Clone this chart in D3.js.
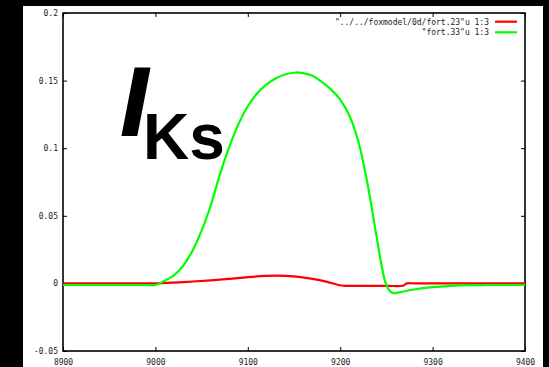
<!DOCTYPE html>
<html>
<head>
<meta charset="utf-8">
<script src="https://cdn.jsdelivr.net/npm/d3@7"></script>
<style>
  html, body { margin: 0; padding: 0; background: #000; }
  svg { display: block; }
  .tick text { font-family: "DejaVu Sans Mono", monospace; font-size: 8px; fill: #222; }
</style>
</head>
<body>
<svg id="chart" width="549" height="367"></svg>
<script>
// tick values
const xTicks = [8900, 9000, 9100, 9200, 9300, 9400];
const yTicks = [-0.05, 0, 0.05, 0.1, 0.15, 0.2];

// series: "../../foxmodel/0d/fort.23" u 1:3 (red)
const redT = [8900, 8990, 9000, 9020, 9040, 9060, 9080, 9100, 9120, 9130, 9150, 9170, 9185, 9198, 9205,
              9220, 9250, 9268, 9272, 9280, 9400];
const redV = [0, 0, 0, 0.0006, 0.0014, 0.0023, 0.0034, 0.0046, 0.0055, 0.0057, 0.0052, 0.0034, 0.0013,
              -0.0012, -0.0018, -0.0018, -0.0018, -0.0017, 0, 0, 0];

// series: "fort.33" u 1:3 (green)
const greenT = [8900, 8990, 9000, 9010, 9020, 9030, 9040, 9050, 9060, 9070, 9080, 9090, 9100, 9110, 9120,
                9130, 9140, 9152, 9160, 9170, 9180, 9190, 9200, 9210, 9220, 9230, 9240, 9248,
                9252, 9257, 9265, 9280, 9300, 9320, 9340, 9360, 9400];
const greenV = [-0.0012, -0.0012, -0.0012, 0.002, 0.006, 0.013, 0.024, 0.039, 0.058, 0.081, 0.101, 0.118,
                0.131, 0.1405, 0.147, 0.1515, 0.1545, 0.156, 0.1555, 0.1535, 0.149, 0.1435, 0.136,
                0.124, 0.104, 0.072, 0.032, 0.003, -0.004, -0.0072, -0.0064, -0.0045, -0.0028,
                -0.0018, -0.0013, -0.0012, -0.0012];

const margin = {left: 63, top: 13, right: 525, bottom: 351};

const svg = d3.select('#chart');

svg.append('rect')
  .attr('x', 23).attr('y', 6)
  .attr('width', 520).attr('height', 361)
  .attr('fill', '#fff');

const x = d3.scaleLinear().domain([8900, 9400]).range([margin.left, margin.right]);
const y = d3.scaleLinear().domain([-0.05, 0.2]).range([margin.bottom, margin.top]);

const fmt = v => String(v);

// axes with inward ticks, mirrored on all sides
svg.append('g')
  .attr('transform', `translate(${margin.left},0)`)
  .call(d3.axisLeft(y).tickValues(yTicks).tickFormat(fmt).tickSize(-4).tickSizeOuter(0).tickPadding(5));
svg.append('g')
  .attr('transform', `translate(${margin.right},0)`)
  .call(d3.axisRight(y).tickValues(yTicks).tickFormat('').tickSize(-4).tickSizeOuter(0));
svg.append('g')
  .attr('transform', `translate(0,${margin.bottom})`)
  .call(d3.axisBottom(x).tickValues(xTicks).tickFormat(fmt).tickSize(-4).tickSizeOuter(0).tickPadding(8));
svg.append('g')
  .attr('transform', `translate(0,${margin.top})`)
  .call(d3.axisTop(x).tickValues(xTicks).tickFormat('').tickSize(-4).tickSizeOuter(0));

svg.selectAll('.domain').remove();
svg.selectAll('.tick line').attr('stroke', '#000').attr('stroke-width', 1);

svg.append('rect')
  .attr('x', margin.left).attr('y', margin.top)
  .attr('width', margin.right - margin.left).attr('height', margin.bottom - margin.top)
  .attr('fill', 'none').attr('stroke', '#000').attr('stroke-width', 1.6);

const line = d3.line()
  .x(d => x(d[0]))
  .y(d => y(d[1]))
  .curve(d3.curveCatmullRom.alpha(0.5));

svg.append('path')
  .datum(d3.zip(redT, redV))
  .attr('d', line)
  .attr('fill', 'none').attr('stroke', '#ff0000').attr('stroke-width', 2.2);

svg.append('path')
  .datum(d3.zip(greenT, greenV))
  .attr('d', line)
  .attr('fill', 'none').attr('stroke', '#00ff00').attr('stroke-width', 2.2);

// legend
const legend = [
  {label: '"../../foxmodel/0d/fort.23"u 1:3', color: '#ff0000'},
  {label: '"fort.33"u 1:3', color: '#00ff00'}
];
const lg = svg.append('g');
legend.forEach((d, i) => {
  const cy = 21.7 + i * 10.6;
  lg.append('text')
    .attr('x', 489).attr('y', cy).attr('dy', '0.35em')
    .attr('text-anchor', 'end')
    .style('font-family', '"DejaVu Sans Mono", monospace')
    .style('font-size', '8px').style('fill', '#222')
    .text(d.label);
  lg.append('line')
    .attr('x1', 495).attr('x2', 517).attr('y1', cy).attr('y2', cy)
    .attr('stroke', d.color).attr('stroke-width', 2.2);
});

// big label I_Ks
svg.append('text')
  .attr('x', 121).attr('y', 135)
  .style('font-family', '"Liberation Sans", Arial, sans-serif')
  .style('font-weight', 'bold').style('font-style', 'italic')
  .style('font-size', '96px')
  .style('fill', '#000').style('stroke', '#000').style('stroke-width', 2)
  .text('I');
svg.append('text')
  .attr('x', 143).attr('y', 159)
  .style('font-family', '"Liberation Sans", Arial, sans-serif')
  .style('font-weight', 'bold')
  .style('font-size', '64px')
  .style('fill', '#000')
  .text('Ks');
</script>
</body>
</html>
